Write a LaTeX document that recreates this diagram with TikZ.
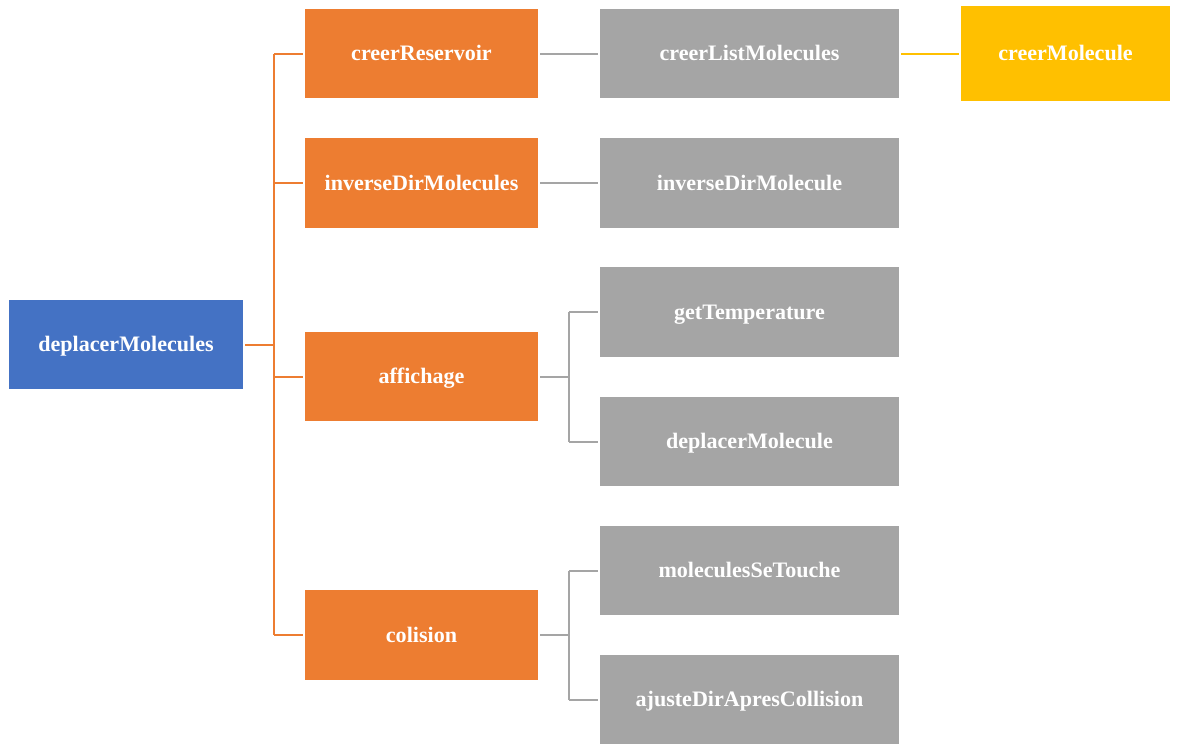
\documentclass[tikz,border=0pt]{standalone}
\usepackage{fontspec}
\setmainfont{Liberation Serif}
\usepackage{xcolor}
\usepackage{tikz}
\usetikzlibrary{calc,positioning}
\definecolor{rootblue}{HTML}{4472C4}
\definecolor{funcorange}{HTML}{ED7D31}
\definecolor{subgray}{HTML}{A5A5A5}
\definecolor{leafyellow}{HTML}{FFC000}

\begin{document}
\begin{tikzpicture}[x=0.025cm,y=-0.025cm,font=\bfseries\fontsize{15.7}{19}\selectfont]
  \tikzset{callbox/.style={text=white, inner sep=0pt, minimum height=2.225cm, align=center, text height=13pt, text depth=2.4pt},
    rootbox/.style={callbox, fill=rootblue, minimum width=5.85cm},
    funcbox/.style={callbox, fill=funcorange, minimum width=5.825cm},
    subbox/.style={callbox, fill=subgray, minimum width=7.475cm},
    leafbox/.style={callbox, fill=leafyellow, minimum width=5.225cm, minimum height=2.375cm},
    link/.style={line width=0.05cm, shorten <=0.05cm, shorten >=0.05cm}}
  \useasboundingbox (0,0) rectangle (1178,750);
  % boxes
  \node[rootbox] (root) at (126,344.5) {deplacerMolecules};
  \node[funcbox] (f1) at (421.5,53.5) {creerReservoir};
  \node[funcbox] (f2) at (421.5,183) {inverseDirMolecules};
  \node[funcbox] (f3) at (421.5,376.5) {affichage};
  \node[funcbox] (f4) at (421.5,635) {colision};
  \node[subbox] (g1) at (749.5,53.5) {creerListMolecules};
  \node[subbox] (g2) at (749.5,183) {inverseDirMolecule};
  \node[subbox] (g3) at (749.5,312) {getTemperature};
  \node[subbox] (g4) at (749.5,441.5) {deplacerMolecule};
  \node[subbox] (g5) at (749.5,570.5) {moleculesSeTouche};
  \node[subbox] (g6) at (749.5,699.5) {ajusteDirApresCollision};
  \node[leafbox] (h1) at (1065.5,53.5) {creerMolecule};
  % connectors
  \coordinate (j0) at (274,344.5);
  \coordinate (j3) at (569,376.5);
  \coordinate (j4) at (569,635);
  \draw[link, funcorange, shorten >=0pt] (root.east) -- (j0);
  \draw[line width=0.05cm, funcorange] (j0 |- f1) -- (j0 |- f4);
  \foreach \f in {f1,f2,f3,f4}
    \draw[link, funcorange, shorten <=0pt] (j0 |- \f) -- (\f.west);
  \draw[link, subgray] (f1) -- (g1);
  \draw[link, subgray] (f2) -- (g2);
  \draw[link, subgray, shorten >=0pt] (f3.east) -- (j3);
  \draw[line width=0.05cm, subgray] (j3 |- g3) -- (j3 |- g4);
  \draw[link, subgray, shorten <=0pt] (j3 |- g3) -- (g3.west);
  \draw[link, subgray, shorten <=0pt] (j3 |- g4) -- (g4.west);
  \draw[link, subgray, shorten >=0pt] (f4.east) -- (j4);
  \draw[line width=0.05cm, subgray] (j4 |- g5) -- (j4 |- g6);
  \draw[link, subgray, shorten <=0pt] (j4 |- g5) -- (g5.west);
  \draw[link, subgray, shorten <=0pt] (j4 |- g6) -- (g6.west);
  \draw[link, leafyellow] (g1) -- (h1);
\end{tikzpicture}
\end{document}
